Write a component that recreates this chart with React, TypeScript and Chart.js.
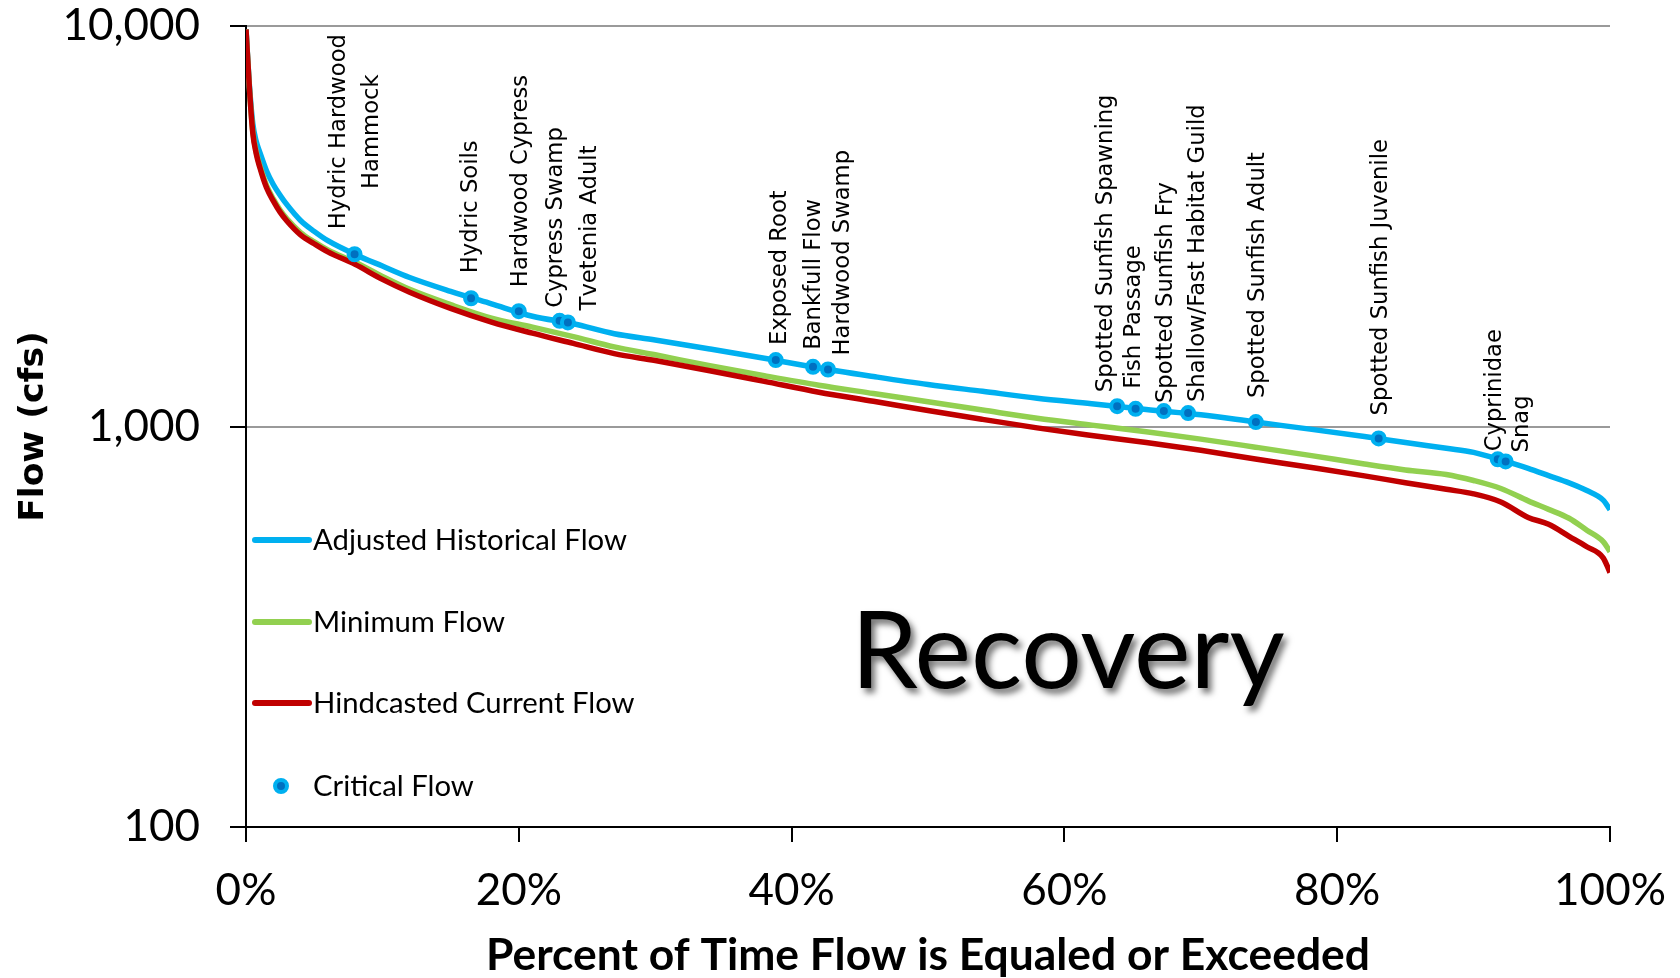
import React, { useEffect, useRef } from "react";
import { Chart, registerables } from "chart.js";

Chart.register(...registerables);

// ---------- data ----------
const PERCENT = [0, 0.25, 0.5, 0.75, 1, 1.5, 2, 2.5, 3, 4, 5, 6, 8, 10, 12, 15, 18, 21, 24, 27, 30, 34, 38, 42, 46, 50, 54, 58, 62, 66, 70, 74, 78, 82, 85, 88, 90, 92, 94, 95.5, 97, 98.3, 99.5, 100];

const ADJUSTED_HISTORICAL = [9800, 7100, 5700, 5150, 4850, 4350, 4020, 3780, 3580, 3270, 3070, 2910, 2690, 2515, 2355, 2175, 2024, 1885, 1805, 1705, 1645, 1562, 1481, 1400, 1333, 1273, 1224, 1177, 1140, 1102, 1070, 1026, 985, 944, 912, 882, 862, 825, 786, 754, 723, 692, 655, 620];

const MINIMUM_FLOW = [9800, 7000, 5450, 4850, 4500, 4000, 3700, 3470, 3300, 3050, 2890, 2760, 2570, 2370, 2200, 2015, 1865, 1770, 1676, 1580, 1510, 1418, 1339, 1268, 1209, 1153, 1099, 1048, 1008, 970, 930, 888, 847, 806, 779, 759, 733, 700, 652, 621, 590, 551, 516, 487];

const HINDCASTED_CURRENT = [9800, 7000, 5400, 4800, 4450, 3950, 3660, 3430, 3260, 3010, 2860, 2730, 2540, 2330, 2164, 1972, 1823, 1710, 1612, 1520, 1461, 1378, 1296, 1218, 1156, 1096, 1042, 992, 950, 912, 872, 830, 791, 753, 724, 697, 679, 648, 593, 570, 532, 501, 470, 432];

const CRITICAL_LABELS = [
  "Hydric Hardwood\nHammock",
  "Hydric Soils",
  "Hardwood Cypress",
  "Cypress Swamp",
  "Tvetenia Adult",
  "Exposed Root",
  "Bankfull Flow",
  "Hardwood Swamp",
  "Spotted Sunfish Spawning",
  "Fish Passage",
  "Spotted Sunfish Fry",
  "Shallow/Fast Habitat Guild",
  "Spotted Sunfish Adult",
  "Spotted Sunfish Juvenile",
  "Cyprinidae",
  "Snag",
];
const CRITICAL_PERCENT = [7.96, 16.5, 20.0, 22.99, 23.6, 38.84, 41.57, 42.67, 63.87, 65.22, 67.29, 69.07, 74.04, 83.04, 91.77, 92.35];
const CRITICAL_FLOW = [2692, 2090, 1941, 1836, 1819, 1465, 1409, 1388, 1124, 1107, 1093, 1080, 1026, 934, 828, 818];

const Y_TICKS = [100, 1000, 10000];
const X_TICKS = [0, 20, 40, 60, 80, 100];

const SERIES_NAMES = ["Adjusted Historical Flow", "Minimum Flow", "Hindcasted Current Flow", "Critical Flow"];

// ---------- styles ----------
const BLUE = "#00B0F0";
const GREEN = "#92D050";
const RED = "#C00000";
const DARK_BLUE = "#0070C0";
const GRID = "#9a9a9a";
const CAL = 'Lato, "Liberation Sans", sans-serif';
const DEJA = '"DejaVu Sans", Verdana, sans-serif';

// label placement: [horizontal shift of text block centre, gap between point and text start]
const LABEL_PLACEMENT: [number, number][] = [
  [1, 25], [0, 25], [2, 24], [-3, 13], [22, 12], [4, 15], [1, 17], [15, 14],
  [-11, 14], [-1, 20], [2, 8], [10, 11], [2, 24], [2, 23], [-3, 8], [16, 9],
];

const zeroPadding = (s: any) => {
  s.paddingTop = 0;
  s.paddingBottom = 0;
  s.paddingLeft = 0;
  s.paddingRight = 0;
};

const overlayPlugin = {
  id: "overlay",
  afterDatasetsDraw(chart: any) {
    const ctx = chart.ctx as CanvasRenderingContext2D;
    const xs = chart.scales.x;
    const ys = chart.scales.y;
    ctx.save();
    ctx.font = `22.7px ${DEJA}`;
    ctx.fillStyle = "#000";
    ctx.textAlign = "center";
    ctx.textBaseline = "middle";
    CRITICAL_LABELS.forEach((label, i) => {
      const lines = label.split("\n");
      const px = xs.getPixelForValue(CRITICAL_PERCENT[i]);
      const py = ys.getPixelForValue(CRITICAL_FLOW[i]);
      const [dx, gap] = LABEL_PLACEMENT[i];
      const maxW = Math.max(...lines.map((l) => ctx.measureText(l).width));
      ctx.save();
      ctx.translate(px + dx, py - gap);
      ctx.rotate(-Math.PI / 2);
      lines.forEach((line, j) => {
        ctx.fillText(line, maxW / 2, (j - (lines.length - 1) / 2) * 33);
      });
      ctx.restore();
    });
    ctx.restore();
  },
  afterDraw(chart: any) {
    const ctx = chart.ctx as CanvasRenderingContext2D;
    const area = chart.chartArea;
    ctx.save();

    // legend
    const rows = [540, 622, 703, 786];
    const colors = [BLUE, GREEN, RED];
    ctx.lineCap = "round";
    colors.forEach((c, i) => {
      ctx.strokeStyle = c;
      ctx.lineWidth = 6;
      ctx.beginPath();
      ctx.moveTo(area.left + 9, rows[i]);
      ctx.lineTo(area.left + 63, rows[i]);
      ctx.stroke();
    });
    ctx.beginPath();
    ctx.arc(area.left + 35, rows[3], 6, 0, Math.PI * 2);
    ctx.fillStyle = DARK_BLUE;
    ctx.fill();
    ctx.lineWidth = 4;
    ctx.strokeStyle = BLUE;
    ctx.stroke();

    ctx.fillStyle = "#000";
    ctx.font = `29.3px ${CAL}`;
    ctx.textAlign = "left";
    ctx.textBaseline = "alphabetic";
    SERIES_NAMES.forEach((name, i) => {
      ctx.fillText(name, area.left + 67, rows[i] + 10);
    });

    // axis titles
    ctx.font = `bold 44.4px ${CAL}`;
    ctx.textAlign = "center";
    ctx.fillText("Percent of Time Flow is Equaled or Exceeded", (area.left + area.right) / 2, 970);

    ctx.save();
    ctx.translate(43, (area.top + area.bottom) / 2);
    ctx.rotate(-Math.PI / 2);
    ctx.font = `bold 34.5px ${DEJA}`;
    ctx.fillText("Flow (cfs)", 0, 0);
    ctx.restore();

    // big annotation
    ctx.save();
    ctx.font = `107px ${CAL}`;
    ctx.textAlign = "left";
    ctx.shadowColor = "rgba(0,0,0,0.55)";
    ctx.shadowOffsetX = 4;
    ctx.shadowOffsetY = 5;
    ctx.shadowBlur = 6;
    ctx.fillText("Recovery", 851, 688);
    ctx.restore();

    ctx.restore();
  },
};

export default function App() {
  const ref = useRef<HTMLCanvasElement | null>(null);

  useEffect(() => {
    if (!ref.current) return;
    const pts = (ys: number[]) => PERCENT.map((x, i) => ({ x, y: ys[i] }));
    const chart = new Chart(ref.current, {
      type: "line",
      data: {
        datasets: [
          {
            label: SERIES_NAMES[3],
            data: CRITICAL_PERCENT.map((x, i) => ({ x, y: CRITICAL_FLOW[i] })),
            showLine: false,
            pointRadius: 6,
            pointBackgroundColor: DARK_BLUE,
            pointBorderColor: BLUE,
            pointBorderWidth: 4,
            order: 0,
          },
          {
            label: SERIES_NAMES[2],
            data: pts(HINDCASTED_CURRENT),
            borderColor: RED,
            borderWidth: 5.5,
            pointRadius: 0,
            cubicInterpolationMode: "monotone",
            order: 1,
          },
          {
            label: SERIES_NAMES[1],
            data: pts(MINIMUM_FLOW),
            borderColor: GREEN,
            borderWidth: 5.5,
            pointRadius: 0,
            cubicInterpolationMode: "monotone",
            order: 2,
          },
          {
            label: SERIES_NAMES[0],
            data: pts(ADJUSTED_HISTORICAL),
            borderColor: BLUE,
            borderWidth: 5.5,
            pointRadius: 0,
            cubicInterpolationMode: "monotone",
            order: 3,
          },
        ],
      },
      options: {
        animation: false,
        responsive: false,
        devicePixelRatio: 1,
        layout: { padding: { left: 0, right: 70, top: 26, bottom: 0 } },
        plugins: { legend: { display: false }, tooltip: { enabled: false } },
        scales: {
          x: {
            type: "linear",
            min: 0,
            max: 100,
            afterBuildTicks: (s: any) => {
              s.ticks = X_TICKS.map((v) => ({ value: v }));
            },
            afterFit: (s: any) => {
              s.height = 151;
              zeroPadding(s);
            },
            ticks: {
              font: { family: CAL, size: 44 },
              color: "#000",
              padding: 22,
              maxRotation: 0,
              callback: (v: any) => `${v}%`,
            },
            grid: { drawOnChartArea: false, drawTicks: true, tickLength: 15, tickColor: "#000", lineWidth: 2 },
            border: { display: true, color: "#000", width: 2 },
          },
          y: {
            type: "logarithmic",
            min: 100,
            max: 10000,
            afterBuildTicks: (s: any) => {
              s.ticks = Y_TICKS.map((v) => ({ value: v }));
            },
            afterFit: (s: any) => {
              s.width = 246;
              zeroPadding(s);
            },
            ticks: {
              font: { family: CAL, size: 44 },
              color: "#000",
              padding: 30,
              callback: (v: any) => Number(v).toLocaleString("en-US"),
            },
            grid: { color: GRID, lineWidth: 2, tickLength: 16, tickColor: "#000", drawTicks: true },
            border: { display: true, color: "#000", width: 2 },
          },
        },
      },
      plugins: [overlayPlugin],
    });
    return () => chart.destroy();
  }, []);

  return (
    <div style={{ position: "fixed", left: 0, top: 0, width: 1680, height: 978, background: "#fff" }}>
      <canvas ref={ref} width={1680} height={978} style={{ width: 1680, height: 978, display: "block" }} />
    </div>
  );
}
